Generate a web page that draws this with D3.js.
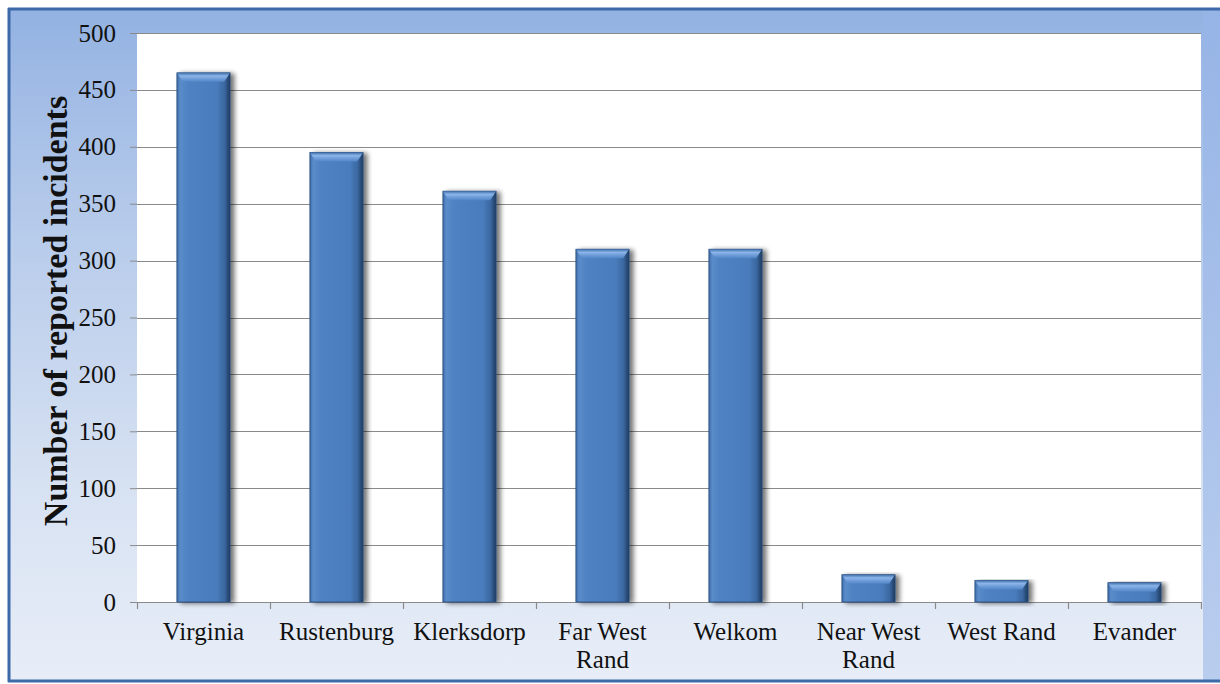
<!DOCTYPE html>
<html>
<head>
<meta charset="utf-8">
<script src="https://cdn.jsdelivr.net/npm/d3@7"></script>
<style>
  html, body { margin: 0; padding: 0; background: #ffffff; }
  svg { display: block; }
</style>
</head>
<body>
<svg id="chart" width="1220" height="684" font-family="'Liberation Serif', 'Times New Roman', serif"></svg>
<script>
// Reported incidents per mining region
const categories = [["Virginia"], ["Rustenburg"], ["Klerksdorp"], ["Far West", "Rand"], ["Welkom"], ["Near West", "Rand"], ["West Rand"], ["Evander"]];
const incidents = [465, 395, 361, 310, 310, 24, 19, 17];
const yTicks = [0, 50, 100, 150, 200, 250, 300, 350, 400, 450, 500];
const yTitle = "Number of reported incidents";

const W = 1220, H = 684;
const plot = { left: 137, right: 1201, top: 33, bottom: 602 };
const SERIF = "'Liberation Serif', 'Times New Roman', serif";

const svg = d3.select("#chart");
const defs = svg.append("defs");

// Frame background: blue at the top fading to pale near the bottom
const bg = defs.append("linearGradient").attr("id", "bgGrad")
  .attr("x1", 0).attr("y1", 0).attr("x2", 0).attr("y2", 1);
bg.append("stop").attr("offset", "0%").attr("stop-color", "#93b2e2");
bg.append("stop").attr("offset", "30%").attr("stop-color", "#b4c9ea");
bg.append("stop").attr("offset", "70%").attr("stop-color", "#d6e1f2");
bg.append("stop").attr("offset", "100%").attr("stop-color", "#e8eef8");

const side = defs.append("linearGradient").attr("id", "sideGrad")
  .attr("x1", 0).attr("y1", 0).attr("x2", 0).attr("y2", 1);
side.append("stop").attr("offset", "0%").attr("stop-color", "#96b4e6");
side.append("stop").attr("offset", "100%").attr("stop-color", "#b9cdee");

// Bar body shading: light left edge, mid body, dark right edge
const barG = defs.append("linearGradient").attr("id", "barGrad")
  .attr("x1", 0).attr("y1", 0).attr("x2", 1).attr("y2", 0);
[["0%", "#3c6aa6"], ["6%", "#5a8cca"], ["20%", "#4f82c2"], ["75%", "#4a7cbc"], ["90%", "#3a679f"], ["100%", "#1f3a5e"]]
  .forEach(([o, c]) => barG.append("stop").attr("offset", o).attr("stop-color", c));

const topG = defs.append("linearGradient").attr("id", "topGrad")
  .attr("x1", 0).attr("y1", 0).attr("x2", 0).attr("y2", 1);
[["0%", "#3f6eaa"], ["35%", "#8fb8ec"], ["70%", "#6d9bd8"], ["100%", "#5387c7"]]
  .forEach(([o, c]) => topG.append("stop").attr("offset", o).attr("stop-color", c));

const shadow = defs.append("filter").attr("id", "barShadow")
  .attr("x", "-20%").attr("y", "-10%").attr("width", "150%").attr("height", "130%");
shadow.append("feGaussianBlur").attr("in", "SourceAlpha").attr("stdDeviation", 2.5).attr("result", "b");
shadow.append("feOffset").attr("in", "b").attr("dx", 4).attr("dy", 1).attr("result", "o");
shadow.append("feComponentTransfer").attr("in", "o").attr("result", "s")
  .append("feFuncA").attr("type", "linear").attr("slope", 0.55);
const merge = shadow.append("feMerge");
merge.append("feMergeNode").attr("in", "s");
merge.append("feMergeNode").attr("in", "SourceGraphic");

// Frame
svg.append("rect").attr("x", 0).attr("y", 0).attr("width", W).attr("height", H).attr("fill", "#ffffff");
svg.append("rect").attr("x", 8).attr("y", 8).attr("width", W - 8).attr("height", H - 10).attr("fill", "url(#bgGrad)");
svg.append("rect").attr("x", plot.right + 2).attr("y", 10).attr("width", W - plot.right - 2).attr("height", H - 14)
  .attr("fill", "url(#sideGrad)");
svg.append("line").attr("x1", 8).attr("x2", W).attr("y1", 9).attr("y2", 9)
  .attr("stroke", "#3d69a8").attr("stroke-width", 3);
svg.append("line").attr("x1", 9).attr("x2", 9).attr("y1", 8).attr("y2", H - 2)
  .attr("stroke", "#3d69a8").attr("stroke-width", 3);
svg.append("line").attr("x1", 8).attr("x2", W).attr("y1", H - 3).attr("y2", H - 3)
  .attr("stroke", "#3d69a8").attr("stroke-width", 3);

// Plot area
svg.append("rect").attr("x", plot.left).attr("y", plot.top)
  .attr("width", plot.right - plot.left).attr("height", plot.bottom - plot.top)
  .attr("fill", "#ffffff");

const x = d3.scaleBand()
  .domain(categories.map(c => c.join(" ")))
  .range([plot.left, plot.right])
  .paddingInner(0.6).paddingOuter(0.3);
const xBand = d3.scaleBand().domain(x.domain()).range([plot.left, plot.right]);
const y = d3.scaleLinear().domain([0, 500]).range([plot.bottom, plot.top]);

// Horizontal gridlines with ticks and labels
const yAxis = svg.append("g").attr("transform", `translate(${plot.left},0)`)
  .call(d3.axisLeft(y).tickValues(yTicks).tickSize(7).tickPadding(14))
  .attr("font-family", SERIF).attr("font-size", 25)
  .call(g => g.select(".domain").remove());
yAxis.selectAll(".tick line").attr("stroke", "#8a8a8a");
yAxis.selectAll(".tick text").attr("fill", "#111");
svg.append("g").selectAll("line").data(yTicks.filter(d => d > 0)).join("line")
  .attr("x1", plot.left).attr("x2", plot.right)
  .attr("y1", d => Math.round(y(d)) + 0.5).attr("y2", d => Math.round(y(d)) + 0.5)
  .attr("stroke", "#8a8a8a").attr("stroke-width", 1.2);

// Category axis: baseline plus ticks at band boundaries
const bounds = xBand.domain().map(d => xBand(d)).concat([plot.right]);
svg.append("line").attr("x1", plot.left - 7).attr("x2", plot.right)
  .attr("y1", plot.bottom + 0.5).attr("y2", plot.bottom + 0.5)
  .attr("stroke", "#8a8a8a").attr("stroke-width", 1.2);
svg.append("g").selectAll("line").data(bounds).join("line")
  .attr("x1", d => Math.round(d) + 0.5).attr("x2", d => Math.round(d) + 0.5)
  .attr("y1", plot.bottom).attr("y2", plot.bottom + 7)
  .attr("stroke", "#8a8a8a").attr("stroke-width", 1.2);

// Bars
const barData = categories.map((c, i) => ({ key: c.join(" "), lines: c, v: incidents[i] }));
const bars = svg.append("g").selectAll("g").data(barData).join("g")
  .attr("filter", "url(#barShadow)");
bars.append("rect")
  .attr("x", d => x(d.key)).attr("y", d => y(d.v))
  .attr("width", x.bandwidth()).attr("height", d => y(0) - y(d.v))
  .attr("fill", "url(#barGrad)").attr("stroke", "#2b4d7c").attr("stroke-width", 0.8);
// Bevelled top face
bars.append("path")
  .attr("d", d => {
    const x0 = x(d.key), x1 = x0 + x.bandwidth(), t = y(d.v);
    const h = Math.min(9, (y(0) - t) / 2);
    return `M${x0},${t} L${x1},${t} L${x1 - 6},${t + h} L${x0 + 6},${t + h} Z`;
  })
  .attr("fill", "url(#topGrad)").attr("opacity", 0.95);

// Category labels
const labels = svg.append("g").attr("font-family", SERIF).attr("font-size", 25)
  .selectAll("text").data(barData).join("text")
  .attr("x", d => xBand(d.key) + xBand.bandwidth() / 2)
  .attr("y", 640)
  .attr("text-anchor", "middle")
  .attr("fill", "#111");
labels.selectAll("tspan").data(d => d.lines).join("tspan")
  .attr("x", function () { return d3.select(this.parentNode).attr("x"); })
  .attr("dy", (d, i) => i === 0 ? 0 : 28)
  .text(d => d);

// Y axis title
svg.append("text")
  .attr("transform", "translate(67,311) rotate(-90)")
  .attr("text-anchor", "middle")
  .attr("font-family", SERIF)
  .attr("font-size", 34).attr("font-weight", "bold").attr("fill", "#111")
  .text(yTitle);
</script>
</body>
</html>
